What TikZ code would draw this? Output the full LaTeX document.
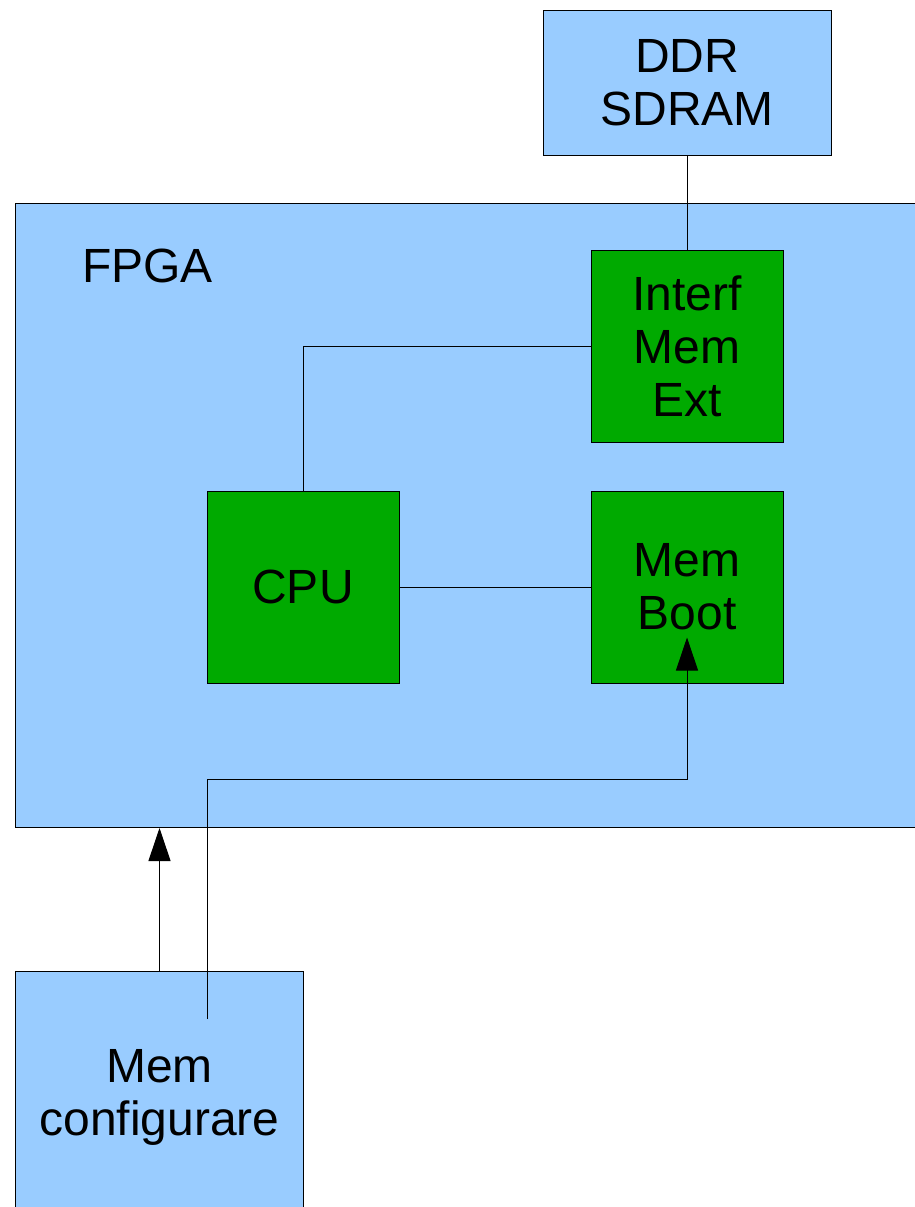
\documentclass[tikz,border=0pt]{standalone}
\usepackage{fontspec}
\setmainfont{Liberation Sans}
\usetikzlibrary{positioning,arrows.meta}

\definecolor{boardblue}{RGB}{153,204,255}
\definecolor{coregreen}{RGB}{0,170,0}

\begin{document}
\begin{tikzpicture}[x=1pt, y=-1pt,
    every node/.style={font=\fontsize{48}{53}\selectfont},
    box/.style={draw, fill=boardblue, line width=1pt, align=center, inner sep=0pt},
    core/.style={draw, fill=coregreen, line width=1pt, align=center, inner sep=0pt,
      minimum width=192pt, minimum height=192pt},
    wire/.style={line width=1pt},
    >={Triangle[length=33pt,width=22pt]}]
  \useasboundingbox (0,0) rectangle (915,1207);
  \clip (0,0) rectangle (915,1207);

  % board and external parts
  \node[box, minimum width=960pt, minimum height=624pt, anchor=north west] (fpga) at (15,203) {};
  \node[anchor=base west, inner sep=0pt] (fpga-lbl) at (82,282) {FPGA};
  \node[box, minimum width=288pt, minimum height=144pt] (ddr) at (687,83) {DDR\\SDRAM};
  \node[box, minimum width=288pt, minimum height=252pt, anchor=north west] (cfg) at (15,971) {Mem\\configurare};

  % blocks inside the FPGA
  \node[core] (cpu) at (303,587) {CPU};
  \node[core] (boot) at (687,587) {Mem\\Boot};
  \node[core, above=48pt of boot] (ext) {Interf\\Mem\\Ext};

  \coordinate (cfg-in) at (207,1019);
  \coordinate (bend) at (207,779);
  \coordinate (boot-in) at ([yshift=46pt]boot.south);

  \draw[wire] (ddr) -- (ext);
  \draw[wire] (ext.west) -| (cpu.north);
  \draw[wire] (cpu) -- (boot);
  \draw[wire, ->] (cfg-in) -- (bend) -| (boot-in);
  \draw[wire, ->] (cfg.north) -- (cfg.north |- fpga.south);
\end{tikzpicture}
\end{document}
